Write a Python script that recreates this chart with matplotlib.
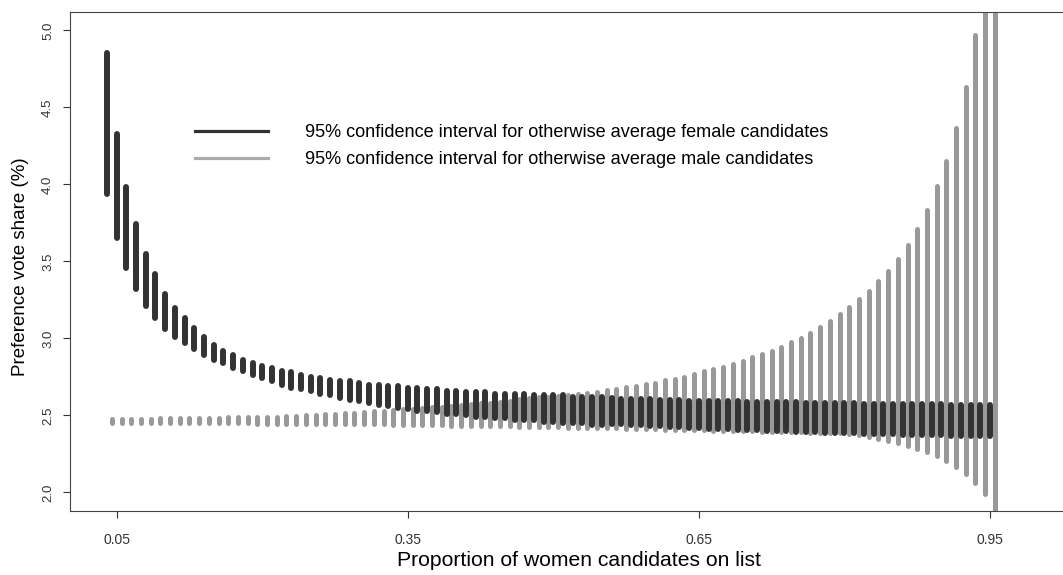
import numpy as np
import matplotlib.pyplot as plt
from matplotlib.lines import Line2D

plt.rcParams['font.family'] = ['Liberation Sans', 'DejaVu Sans']

# proportion of women on the list (grid of the simulation)
prop_f = np.arange(0.04, 0.9501, 0.01)
prop_m = prop_f + 0.005

# 95% CI, otherwise average female candidates
fem_hi = [4.85, 4.33, 3.98, 3.74, 3.55, 3.42, 3.29, 3.20, 3.13, 3.07, 3.01, 2.96, 2.92, 2.89, 2.86, 2.84, 2.82,
          2.81, 2.79, 2.78, 2.76, 2.75, 2.74, 2.73, 2.72, 2.72, 2.71, 2.70, 2.70, 2.69, 2.69, 2.68, 2.68, 2.67,
          2.67, 2.66, 2.66, 2.65, 2.65, 2.65, 2.64, 2.64, 2.64, 2.64, 2.63, 2.63, 2.63, 2.63, 2.62, 2.62, 2.62, 2.62,
          2.610, 2.608, 2.608, 2.605, 2.603, 2.601, 2.599, 2.597, 2.596, 2.595, 2.592, 2.592, 2.590, 2.590,
          2.588, 2.588, 2.586, 2.586, 2.584, 2.584, 2.582, 2.582, 2.579, 2.579, 2.577, 2.577, 2.575, 2.575,
          2.574, 2.573, 2.573, 2.573, 2.572, 2.571, 2.571, 2.570, 2.569, 2.569, 2.568, 2.566]
fem_lo = [3.94, 3.65, 3.46, 3.32, 3.21, 3.13, 3.06, 3.01, 2.97, 2.93, 2.89, 2.86, 2.84, 2.81, 2.79, 2.76, 2.74,
          2.72, 2.70, 2.68, 2.67, 2.66, 2.64, 2.63, 2.61, 2.60, 2.59, 2.58, 2.57, 2.56, 2.55, 2.54, 2.53, 2.53,
          2.52, 2.51, 2.51, 2.50, 2.49, 2.49, 2.48, 2.48, 2.47, 2.47, 2.47, 2.46, 2.46, 2.45, 2.45, 2.45, 2.44, 2.44,
          2.444, 2.442, 2.440, 2.436, 2.433, 2.430, 2.427, 2.423, 2.420, 2.417, 2.414, 2.412, 2.409, 2.407,
          2.405, 2.403, 2.401, 2.399, 2.396, 2.394, 2.392, 2.390, 2.388, 2.387, 2.386, 2.383, 2.381, 2.380,
          2.379, 2.377, 2.375, 2.374, 2.373, 2.371, 2.370, 2.369, 2.368, 2.367, 2.366, 2.364]

# 95% CI, otherwise average male candidates
male_hi = [2.475, 2.476, 2.477, 2.478, 2.479, 2.480, 2.481, 2.482, 2.483, 2.484, 2.485, 2.486, 2.487, 2.488, 2.489,
           2.488, 2.489, 2.492, 2.494, 2.497, 2.500, 2.503, 2.506, 2.510, 2.514, 2.518, 2.522, 2.527, 2.531, 2.535,
           2.539, 2.544, 2.548, 2.553, 2.557, 2.562, 2.567, 2.572, 2.577, 2.583, 2.589, 2.595, 2.603, 2.611, 2.616,
           2.622, 2.627, 2.633, 2.639, 2.646, 2.653, 2.663, 2.674, 2.681, 2.692, 2.702, 2.713, 2.728, 2.739, 2.752,
           2.767, 2.785, 2.800, 2.817, 2.832, 2.854, 2.876, 2.897, 2.919, 2.945, 2.975, 3.003, 3.036, 3.072, 3.112,
           3.155, 3.202, 3.254, 3.309, 3.373, 3.438, 3.514, 3.605, 3.713, 3.834, 3.986, 4.153, 4.365, 4.629, 4.971,
           5.45, 6.10]
male_lo = [2.450, 2.450, 2.450, 2.450, 2.450, 2.449, 2.449, 2.449, 2.449, 2.449, 2.448, 2.448, 2.448, 2.448, 2.448,
           2.447, 2.447, 2.446, 2.446, 2.445, 2.445, 2.444, 2.444, 2.443, 2.443, 2.442, 2.442, 2.441, 2.441, 2.440,
           2.439, 2.438, 2.437, 2.436, 2.435, 2.434, 2.433, 2.432, 2.431, 2.430, 2.429, 2.428, 2.427, 2.426, 2.425,
           2.423, 2.422, 2.421, 2.420, 2.418, 2.417, 2.416, 2.415, 2.413, 2.412, 2.411, 2.409, 2.408, 2.406, 2.405,
           2.403, 2.402, 2.401, 2.400, 2.398, 2.397, 2.396, 2.395, 2.393, 2.392, 2.391, 2.390, 2.388, 2.387, 2.385,
           2.385, 2.382, 2.371, 2.360, 2.345, 2.334, 2.319, 2.302, 2.284, 2.263, 2.237, 2.204, 2.165, 2.117, 2.063,
           1.987, 1.75]

xticks = [0.05, 0.35, 0.65, 0.95]
yticks = [2.0, 2.5, 3.0, 3.5, 4.0, 4.5, 5.0]

fig = plt.figure(figsize=(10.63, 5.75), dpi=100)
ax = fig.add_axes([70 / 1063, 64 / 575, 1018 / 1063, 499 / 575])

ax.vlines(prop_m, male_lo, male_hi, colors='#999999', linewidth=3.6, capstyle='round')
ax.vlines(prop_f, fem_lo, fem_hi, colors='#333333', linewidth=4.3, capstyle='round')

ax.set_xlim(0.0019, 1.051)
ax.set_ylim(1.879, 5.119)
ax.spines['right'].set_visible(False)
for s in ['left', 'bottom', 'top']:
    ax.spines[s].set_color('#444444')
    ax.spines[s].set_linewidth(0.8)

ax.set_xticks(xticks)
ax.set_xticklabels(['%.2f' % t for t in xticks])
ax.set_yticks(yticks)
ax.set_yticklabels(['%.1f' % t for t in yticks], rotation=90, va='center')
ax.tick_params(direction='out', length=5, width=0.8, color='#333333', labelcolor='#333333', labelsize=9.5)
ax.tick_params(axis='x', pad=11, labelsize=10)
ax.tick_params(axis='y', pad=6.5)

ax.set_xlabel('Proportion of women candidates on list', fontsize=15.2)
ax.xaxis.set_label_coords(0.5, -0.08)
ax.set_ylabel('Preference vote share (%)', fontsize=13.5)
ax.yaxis.set_label_coords(-0.040, 0.49)

handles = [Line2D([0], [0], color='#333333', lw=2.3),
           Line2D([0], [0], color='#aaaaaa', lw=2.3)]
labels = ['95% confidence interval for otherwise average female candidates',
          '95% confidence interval for otherwise average male candidates']
ax.legend(handles, labels, loc='upper left', bbox_to_anchor=(195 / 1063, 1 - 124 / 575),
          bbox_transform=fig.transFigure, frameon=False, fontsize=13.1, handlelength=4.0,
          handletextpad=2.03, labelspacing=0.55, borderpad=0, borderaxespad=0)

fig.savefig('out.png', dpi=100)
